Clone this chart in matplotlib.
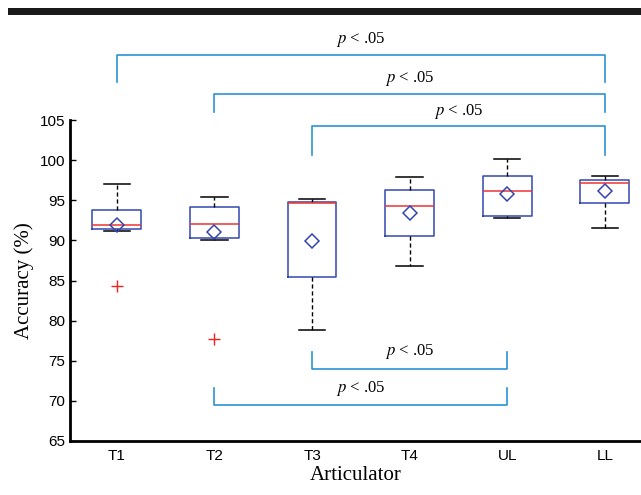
import matplotlib
matplotlib.use("Agg")
import matplotlib.pyplot as plt
from matplotlib.patches import Rectangle

categories = ["T1", "T2", "T3", "T4", "UL", "LL"]
whisker_low = [91.2, 90.05, 78.8, 86.85, 92.8, 91.5]
q1 = [91.4, 90.25, 85.4, 90.5, 93.05, 94.6]
medians = [91.9, 92.0, 94.65, 94.3, 96.2, 97.2]
q3 = [93.8, 94.1, 94.75, 96.3, 98.0, 97.5]
whisker_high = [97.0, 95.45, 95.15, 97.9, 100.2, 98.0]
means = [91.9, 91.0, 89.9, 93.4, 95.75, 96.1]
outliers = [[84.35], [77.7], [], [], [], []]

# significance brackets: (from index, to index)
top_pairs = [(0, 5), (1, 5), (2, 5)]
bottom_pairs = [(2, 4), (1, 4)]
sig_label = "$\\mathit{p}$ < .05"

fig = plt.figure(figsize=(6.41, 4.95), dpi=100)
ax = fig.add_axes([70/641, 54/495, 571/641, 321/495])

stats = []
for i, c in enumerate(categories):
    stats.append(dict(label=c, whislo=whisker_low[i], q1=q1[i], med=medians[i],
                      q3=q3[i], whishi=whisker_high[i], mean=means[i], fliers=outliers[i]))

box_blue = "#3346b0"
ax.bxp(stats, positions=range(1, 7), widths=0.5, capwidths=0.27, showmeans=True,
       boxprops=dict(color=box_blue, linewidth=1.1),
       medianprops=dict(color="#ee3333", linewidth=1.1),
       whiskerprops=dict(color="black", linestyle=(0, (3, 2)), linewidth=1.0),
       capprops=dict(color="black", linewidth=1.1),
       flierprops=dict(marker="+", markeredgecolor="#ee2222", markersize=8, linestyle="none"),
       meanprops=dict(marker="D", markerfacecolor="none", markeredgecolor=box_blue,
                      markersize=7, markeredgewidth=1.1))

ax.set_ylim(65, 105)
ax.set_xlim(0.52, 6.37)
ax.set_yticks(range(65, 106, 5))
ax.set_xticks(range(1, 7))
ax.set_xticklabels(categories)
for s in ["top", "right"]:
    ax.spines[s].set_visible(False)
for s in ["left", "bottom"]:
    ax.spines[s].set_linewidth(2)
ax.tick_params(axis="y", direction="in", length=4, width=1, labelsize=11)
ax.tick_params(axis="x", length=0, labelsize=11, pad=6)
for lab in ax.get_xticklabels() + ax.get_yticklabels():
    lab.set_fontfamily("Liberation Sans")

ax.set_xlabel("Articulator", fontfamily="Liberation Serif", fontsize=15, labelpad=2)
ax.set_ylabel("Accuracy (%)", fontfamily="Liberation Serif", fontsize=15, labelpad=4)

br = "#2b93d6"
top_y = [113.1, 108.2, 104.25]
top_leg = [109.7, 106.0, 100.6]
top_text = [115.0, 110.2, 106.0]
for (a, b), y, yl, yt in zip(top_pairs, top_y, top_leg, top_text):
    xa, xb = a + 1, b + 1
    ax.plot([xa, xa, xb, xb], [yl, y, y, yl], color=br, lw=1.2, clip_on=False)
    ax.text((xa + xb) / 2, yt, sig_label, ha="center", va="center", fontsize=12,
            fontfamily="Liberation Serif", math_fontfamily="stix")

bot_y = [74.0, 69.5]
bot_leg = [76.1, 71.6]
bot_text = [76.2, 71.5]
for (a, b), y, yl, yt in zip(bottom_pairs, bot_y, bot_leg, bot_text):
    xa, xb = a + 1, b + 1
    ax.plot([xa, xa, xb, xb], [yl, y, y, yl], color=br, lw=1.2, clip_on=False)
    ax.text((xa + xb) / 2, yt, sig_label, ha="center", va="center", fontsize=12,
            fontfamily="Liberation Serif", math_fontfamily="stix")

fig.add_artist(Rectangle((8/641, 1 - 15/495), 633/641, 7/495, transform=fig.transFigure,
                         color="#1a1a1a", lw=0))

fig.savefig("out.png", dpi=100)
